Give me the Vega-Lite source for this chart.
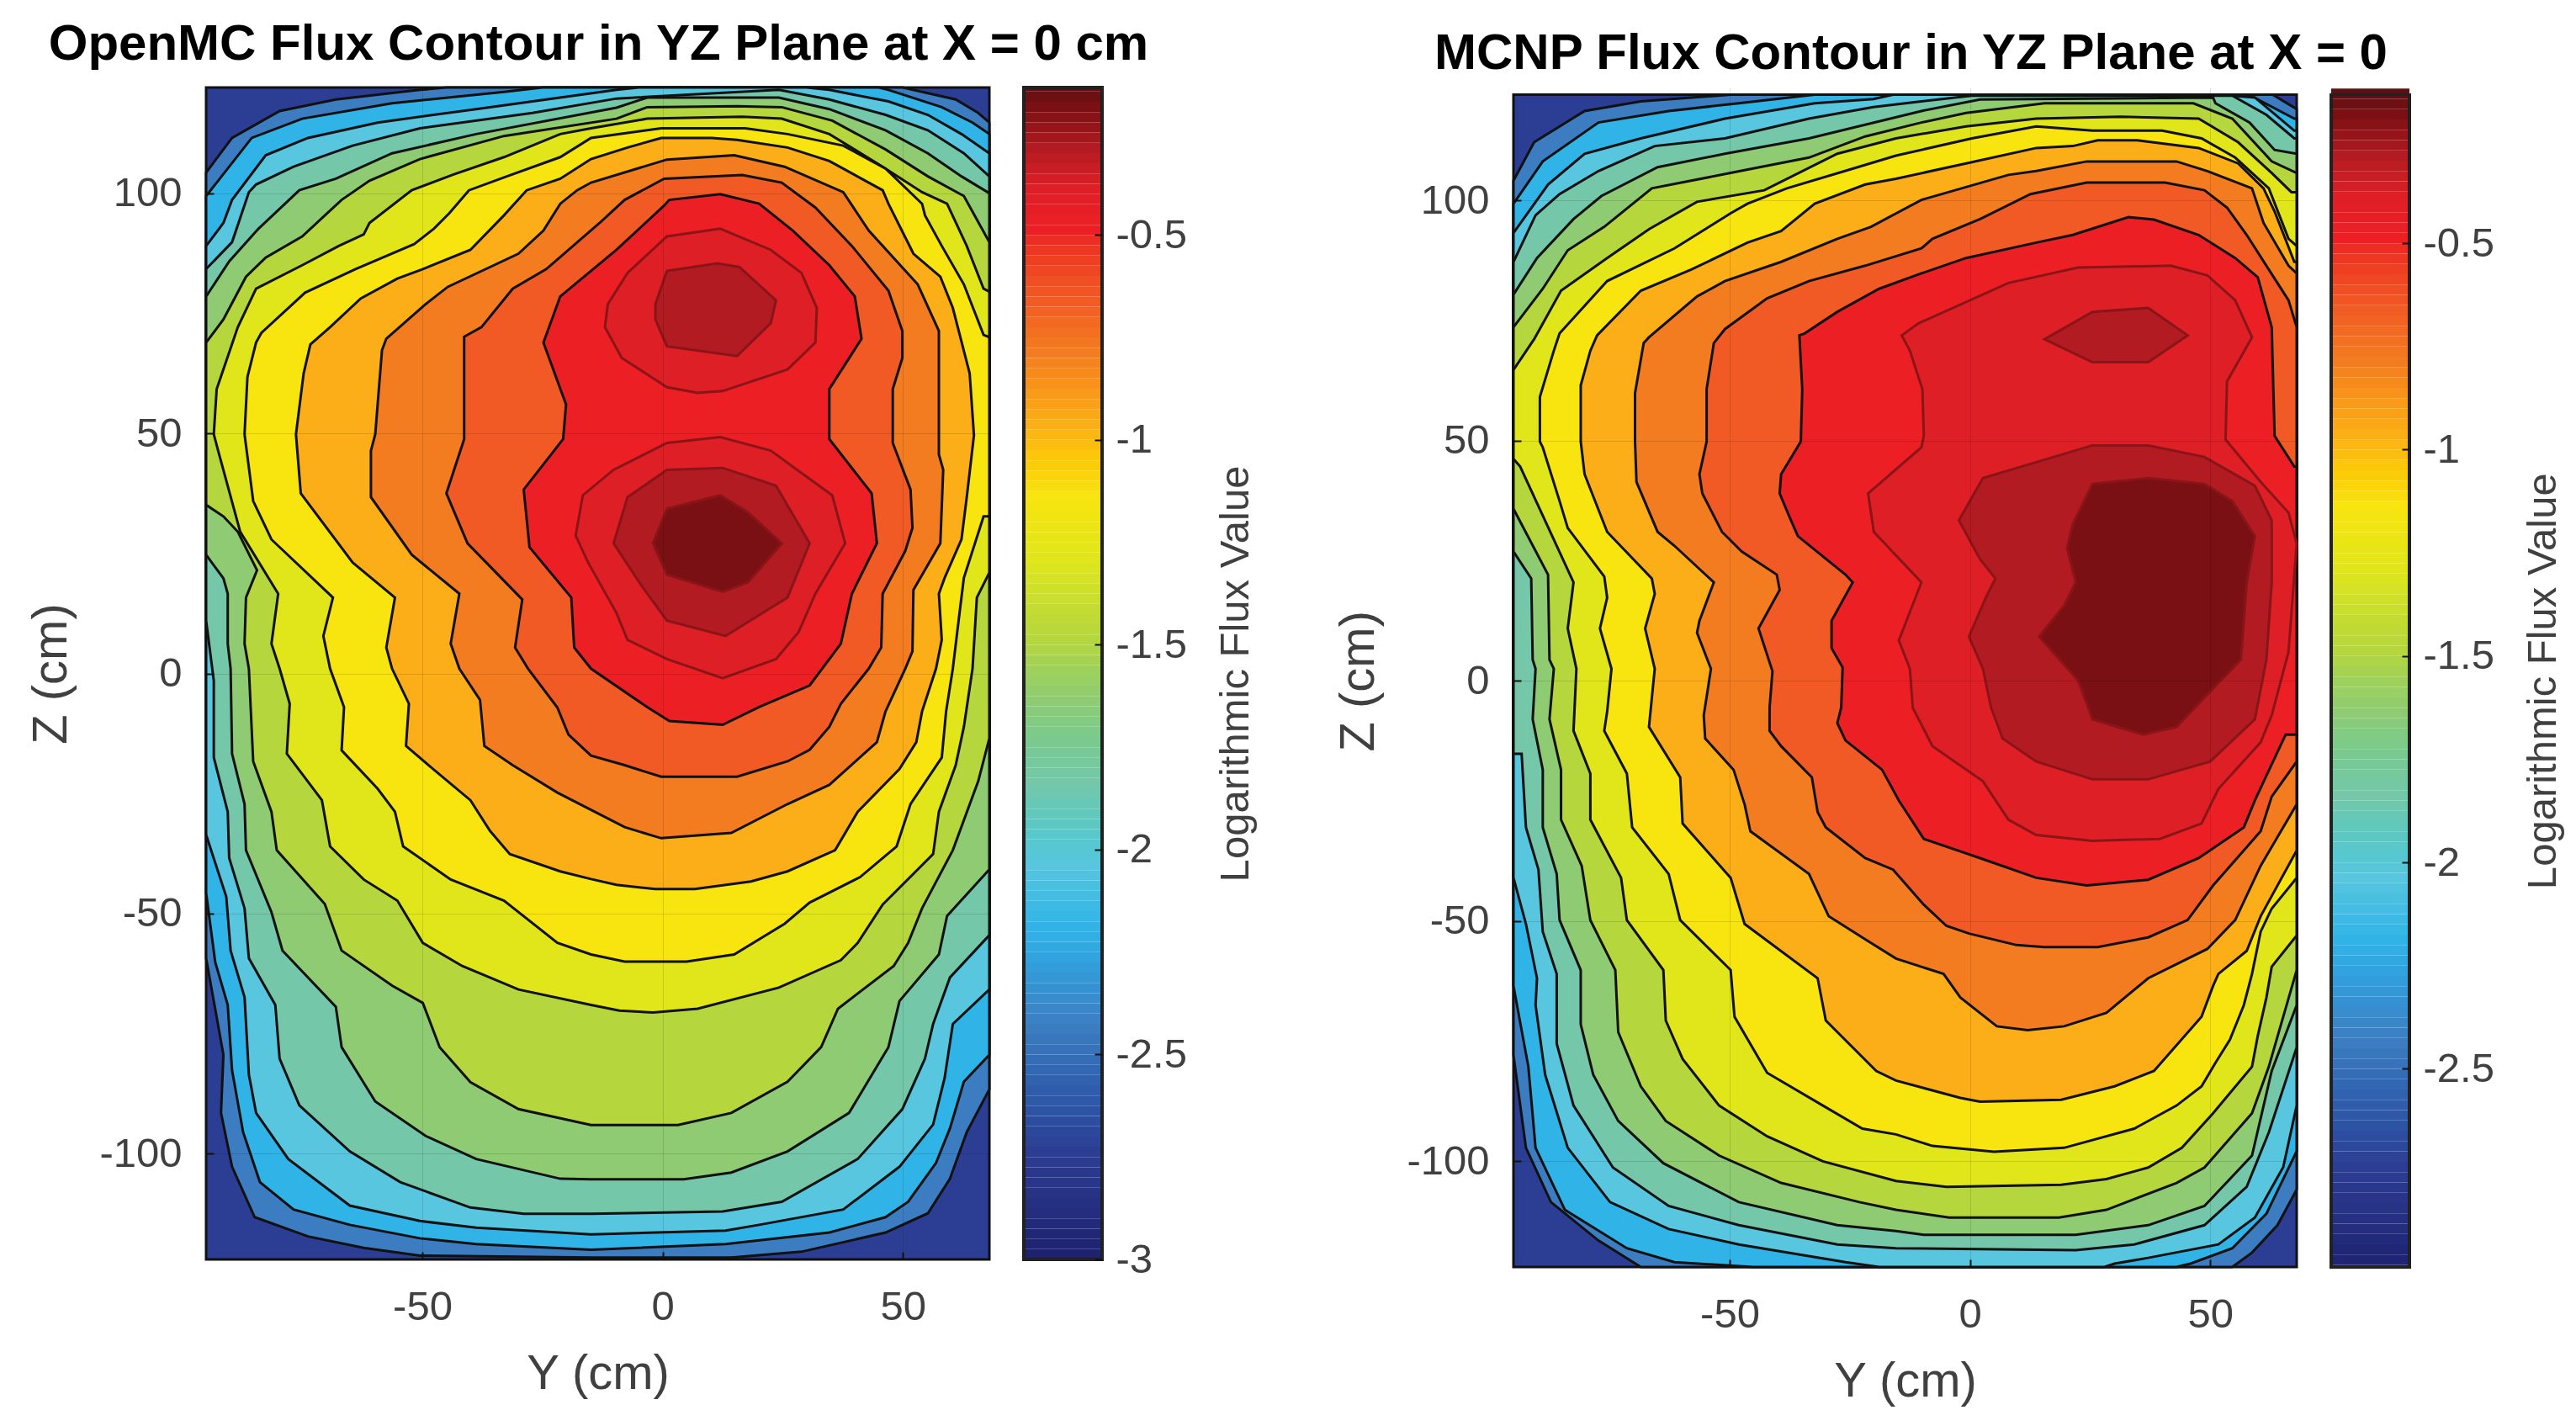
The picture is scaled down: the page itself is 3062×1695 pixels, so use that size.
{"$schema":"https://vega.github.io/schema/vega-lite/v6.json","padding":{"left":32,"top":23,"right":10,"bottom":5},"bounds":"flush","spacing":41,"config":{"view":{"stroke":null},"font":"Liberation Sans","title":{"font":"Liberation Sans","fontWeight":"bold","fontSize":60,"color":"#000"},"axis":{"labelFont":"Liberation Sans","titleFont":"Liberation Sans","labelColor":"#404040","titleColor":"#404040","titleFontWeight":"normal","domain":false,"ticks":true,"tickColor":"#111111","tickWidth":2,"tickSize":-9}},
"datasets":{"cb":[{"v":-3,"w":-2.975},{"v":-2.975,"w":-2.95},{"v":-2.95,"w":-2.925},{"v":-2.925,"w":-2.9},{"v":-2.9,"w":-2.875},{"v":-2.875,"w":-2.85},{"v":-2.85,"w":-2.825},{"v":-2.825,"w":-2.8},{"v":-2.8,"w":-2.775},{"v":-2.775,"w":-2.75},{"v":-2.75,"w":-2.725},{"v":-2.725,"w":-2.7},{"v":-2.7,"w":-2.675},{"v":-2.675,"w":-2.65},{"v":-2.65,"w":-2.625},{"v":-2.625,"w":-2.6},{"v":-2.6,"w":-2.575},{"v":-2.575,"w":-2.55},{"v":-2.55,"w":-2.525},{"v":-2.525,"w":-2.5},{"v":-2.5,"w":-2.475},{"v":-2.475,"w":-2.45},{"v":-2.45,"w":-2.425},{"v":-2.425,"w":-2.4},{"v":-2.4,"w":-2.375},{"v":-2.375,"w":-2.35},{"v":-2.35,"w":-2.325},{"v":-2.325,"w":-2.3},{"v":-2.3,"w":-2.275},{"v":-2.275,"w":-2.25},{"v":-2.25,"w":-2.225},{"v":-2.225,"w":-2.2},{"v":-2.2,"w":-2.175},{"v":-2.175,"w":-2.15},{"v":-2.15,"w":-2.125},{"v":-2.125,"w":-2.1},{"v":-2.1,"w":-2.075},{"v":-2.075,"w":-2.05},{"v":-2.05,"w":-2.025},{"v":-2.025,"w":-2},{"v":-2,"w":-1.975},{"v":-1.975,"w":-1.95},{"v":-1.95,"w":-1.925},{"v":-1.925,"w":-1.9},{"v":-1.9,"w":-1.875},{"v":-1.875,"w":-1.85},{"v":-1.85,"w":-1.825},{"v":-1.825,"w":-1.8},{"v":-1.8,"w":-1.775},{"v":-1.775,"w":-1.75},{"v":-1.75,"w":-1.725},{"v":-1.725,"w":-1.7},{"v":-1.7,"w":-1.675},{"v":-1.675,"w":-1.65},{"v":-1.65,"w":-1.625},{"v":-1.625,"w":-1.6},{"v":-1.6,"w":-1.575},{"v":-1.575,"w":-1.55},{"v":-1.55,"w":-1.525},{"v":-1.525,"w":-1.5},{"v":-1.5,"w":-1.475},{"v":-1.475,"w":-1.45},{"v":-1.45,"w":-1.425},{"v":-1.425,"w":-1.4},{"v":-1.4,"w":-1.375},{"v":-1.375,"w":-1.35},{"v":-1.35,"w":-1.325},{"v":-1.325,"w":-1.3},{"v":-1.3,"w":-1.275},{"v":-1.275,"w":-1.25},{"v":-1.25,"w":-1.225},{"v":-1.225,"w":-1.2},{"v":-1.2,"w":-1.175},{"v":-1.175,"w":-1.15},{"v":-1.15,"w":-1.125},{"v":-1.125,"w":-1.1},{"v":-1.1,"w":-1.075},{"v":-1.075,"w":-1.05},{"v":-1.05,"w":-1.025},{"v":-1.025,"w":-1},{"v":-1,"w":-0.975},{"v":-0.975,"w":-0.95},{"v":-0.95,"w":-0.925},{"v":-0.925,"w":-0.9},{"v":-0.9,"w":-0.875},{"v":-0.875,"w":-0.85},{"v":-0.85,"w":-0.825},{"v":-0.825,"w":-0.8},{"v":-0.8,"w":-0.775},{"v":-0.775,"w":-0.75},{"v":-0.75,"w":-0.725},{"v":-0.725,"w":-0.7},{"v":-0.7,"w":-0.675},{"v":-0.675,"w":-0.65},{"v":-0.65,"w":-0.625},{"v":-0.625,"w":-0.6},{"v":-0.6,"w":-0.575},{"v":-0.575,"w":-0.55},{"v":-0.55,"w":-0.525},{"v":-0.525,"w":-0.5},{"v":-0.5,"w":-0.475},{"v":-0.475,"w":-0.45},{"v":-0.45,"w":-0.425},{"v":-0.425,"w":-0.4},{"v":-0.4,"w":-0.375},{"v":-0.375,"w":-0.35},{"v":-0.35,"w":-0.325},{"v":-0.325,"w":-0.3},{"v":-0.3,"w":-0.275},{"v":-0.275,"w":-0.25},{"v":-0.25,"w":-0.225},{"v":-0.225,"w":-0.2},{"v":-0.2,"w":-0.175},{"v":-0.175,"w":-0.15},{"v":-0.15,"w":-0.125}],
"L":[{"c":"base","l":-2.75,"y":-95,"z":-122},{"c":"base","l":-2.75,"y":-95,"z":122},{"c":"base","l":-2.75,"y":68,"z":122},{"c":"base","l":-2.75,"y":68,"z":-122},
{"c":"L","l":-2.45,"y":-95,"z":-59.3},{"c":"L","l":-2.45,"y":-95,"z":104.3},{"c":"L","l":-2.45,"y":-89.6,"z":111.5},{"c":"L","l":-2.45,"y":-79.7,"z":117.1},{"c":"L","l":-2.45,"y":-68,"z":119.5},{"c":"L","l":-2.45,"y":-50.5,"z":121.5},{"c":"L","l":-2.45,"y":-45,"z":122},{"c":"L","l":-2.45,"y":50,"z":122},{"c":"L","l":-2.45,"y":61,"z":119.5},{"c":"L","l":-2.45,"y":65.7,"z":116.7},{"c":"L","l":-2.45,"y":68,"z":114.7},{"c":"L","l":-2.45,"y":68,"z":-86.6},{"c":"L","l":-2.45,"y":63.3,"z":-95.5},{"c":"L","l":-2.45,"y":59.8,"z":-105.2},{"c":"L","l":-2.45,"y":55.2,"z":-112.4},{"c":"L","l":-2.45,"y":46.4,"z":-116.4},{"c":"L","l":-2.45,"y":28.9,"z":-120.4},{"c":"L","l":-2.45,"y":14.3,"z":-121.6},{"c":"L","l":-2.45,"y":-14.9,"z":-121.6},{"c":"L","l":-2.45,"y":-50.5,"z":-121.2},{"c":"L","l":-2.45,"y":-62.2,"z":-119.6},{"c":"L","l":-2.45,"y":-73.8,"z":-117.2},{"c":"L","l":-2.45,"y":-84.9,"z":-113.2},{"c":"L","l":-2.45,"y":-89.6,"z":-102.7},{"c":"L","l":-2.45,"y":-91.9,"z":-91.5},{"c":"L","l":-2.45,"y":-91.4,"z":-79.4},
{"c":"K","l":-2.2,"y":-95,"z":-45.7},{"c":"K","l":-2.2,"y":-95,"z":99.4},{"c":"K","l":-2.2,"y":-85.5,"z":111.5},{"c":"K","l":-2.2,"y":-75,"z":115.5},{"c":"K","l":-2.2,"y":-56.3,"z":118.7},{"c":"K","l":-2.2,"y":-33,"z":121.1},{"c":"K","l":-2.2,"y":-25,"z":122},{"c":"K","l":-2.2,"y":45,"z":122},{"c":"K","l":-2.2,"y":47,"z":121.5},{"c":"K","l":-2.2,"y":58.1,"z":117.9},{"c":"K","l":-2.2,"y":64.5,"z":114.7},{"c":"K","l":-2.2,"y":68,"z":112.3},{"c":"K","l":-2.2,"y":68,"z":-79.4},{"c":"K","l":-2.2,"y":62.7,"z":-85},{"c":"K","l":-2.2,"y":59.8,"z":-94.7},{"c":"K","l":-2.2,"y":56.9,"z":-101.9},{"c":"K","l":-2.2,"y":51.1,"z":-110},{"c":"K","l":-2.2,"y":46.4,"z":-113.2},{"c":"K","l":-2.2,"y":34.7,"z":-116.4},{"c":"K","l":-2.2,"y":13.1,"z":-118.8},{"c":"K","l":-2.2,"y":-14.9,"z":-120},{"c":"K","l":-2.2,"y":-38.8,"z":-118.8},{"c":"K","l":-2.2,"y":-50.5,"z":-117.6},{"c":"K","l":-2.2,"y":-65.1,"z":-114.8},{"c":"K","l":-2.2,"y":-76.8,"z":-111.6},{"c":"K","l":-2.2,"y":-83.8,"z":-105.9},{"c":"K","l":-2.2,"y":-87.3,"z":-95.5},{"c":"K","l":-2.2,"y":-89.6,"z":-82.6},{"c":"K","l":-2.2,"y":-90.5,"z":-69},{"c":"K","l":-2.2,"y":-93.1,"z":-60.1},
{"c":"J","l":-2.05,"y":-95,"z":-33.6},{"c":"J","l":-2.05,"y":-95,"z":89},{"c":"J","l":-2.05,"y":-91.4,"z":93.8},{"c":"J","l":-2.05,"y":-89.6,"z":98.6},{"c":"J","l":-2.05,"y":-82.6,"z":107.9},{"c":"J","l":-2.05,"y":-73.8,"z":111.5},{"c":"J","l":-2.05,"y":-59.3,"z":114.7},{"c":"J","l":-2.05,"y":-38.8,"z":117.5},{"c":"J","l":-2.05,"y":-9.6,"z":121.5},{"c":"J","l":-2.05,"y":-5,"z":122},{"c":"J","l":-2.05,"y":30,"z":122},{"c":"J","l":-2.05,"y":34.7,"z":121.5},{"c":"J","l":-2.05,"y":47,"z":119.1},{"c":"J","l":-2.05,"y":55.2,"z":116.3},{"c":"J","l":-2.05,"y":62.2,"z":112.3},{"c":"J","l":-2.05,"y":68,"z":108.3},{"c":"J","l":-2.05,"y":68,"z":-65.8},{"c":"J","l":-2.05,"y":60.4,"z":-73},{"c":"J","l":-2.05,"y":58.7,"z":-84.2},{"c":"J","l":-2.05,"y":56.3,"z":-93.9},{"c":"J","l":-2.05,"y":49.3,"z":-102.7},{"c":"J","l":-2.05,"y":37.6,"z":-111.6},{"c":"J","l":-2.05,"y":20.1,"z":-114.8},{"c":"J","l":-2.05,"y":13.1,"z":-116},{"c":"J","l":-2.05,"y":-14.9,"z":-116.8},{"c":"J","l":-2.05,"y":-38.8,"z":-115.4},{"c":"J","l":-2.05,"y":-50.5,"z":-114},{"c":"J","l":-2.05,"y":-65.1,"z":-110.8},{"c":"J","l":-2.05,"y":-77.9,"z":-101.1},{"c":"J","l":-2.05,"y":-84.6,"z":-91.5},{"c":"J","l":-2.05,"y":-86.1,"z":-83.5},{"c":"J","l":-2.05,"y":-87,"z":-67.4},{"c":"J","l":-2.05,"y":-89.9,"z":-57.7},{"c":"J","l":-2.05,"y":-90.8,"z":-46.5},
{"c":"I","l":-1.85,"y":-95,"z":11},{"c":"I","l":-1.85,"y":-95,"z":84.2},{"c":"I","l":-1.85,"y":-89.6,"z":89.8},{"c":"I","l":-1.85,"y":-86.1,"z":100.2},{"c":"I","l":-1.85,"y":-84.6,"z":101.8},{"c":"I","l":-1.85,"y":-76.8,"z":105.5},{"c":"I","l":-1.85,"y":-64.5,"z":109.9},{"c":"I","l":-1.85,"y":-50.5,"z":113.5},{"c":"I","l":-1.85,"y":-27.1,"z":116.7},{"c":"I","l":-1.85,"y":-9.6,"z":119.7},{"c":"I","l":-1.85,"y":24.2,"z":121.5},{"c":"I","l":-1.85,"y":34.7,"z":119.5},{"c":"I","l":-1.85,"y":46.4,"z":116.3},{"c":"I","l":-1.85,"y":55.2,"z":113.1},{"c":"I","l":-1.85,"y":62.7,"z":108.3},{"c":"I","l":-1.85,"y":68,"z":103.5},{"c":"I","l":-1.85,"y":68,"z":-54.5},{"c":"I","l":-1.85,"y":59.8,"z":-63.3},{"c":"I","l":-1.85,"y":56.3,"z":-73},{"c":"I","l":-1.85,"y":54.6,"z":-80.2},{"c":"I","l":-1.85,"y":49.9,"z":-90.7},{"c":"I","l":-1.85,"y":40.6,"z":-101.1},{"c":"I","l":-1.85,"y":24.8,"z":-110},{"c":"I","l":-1.85,"y":12.5,"z":-112},{"c":"I","l":-1.85,"y":-14.9,"z":-112.5},{"c":"I","l":-1.85,"y":-28.9,"z":-112.5},{"c":"I","l":-1.85,"y":-40,"z":-111.2},{"c":"I","l":-1.85,"y":-54.6,"z":-105.9},{"c":"I","l":-1.85,"y":-65.1,"z":-99.5},{"c":"I","l":-1.85,"y":-75.6,"z":-89.9},{"c":"I","l":-1.85,"y":-79.7,"z":-80.2},{"c":"I","l":-1.85,"y":-80.6,"z":-69},{"c":"I","l":-1.85,"y":-86.1,"z":-59.3},{"c":"I","l":-1.85,"y":-87,"z":-48.9},{"c":"I","l":-1.85,"y":-90.2,"z":-38.4},{"c":"I","l":-1.85,"y":-90.5,"z":-28.8},{"c":"I","l":-1.85,"y":-93.4,"z":-17.5},{"c":"I","l":-1.85,"y":-93.4,"z":-1.5},
{"c":"H","l":-1.65,"y":-95,"z":24.7},{"c":"H","l":-1.65,"y":-95,"z":78.5},{"c":"H","l":-1.65,"y":-90.2,"z":85.8},{"c":"H","l":-1.65,"y":-84.1,"z":92.6},{"c":"H","l":-1.65,"y":-75.6,"z":100.6},{"c":"H","l":-1.65,"y":-68,"z":103},{"c":"H","l":-1.65,"y":-56.3,"z":108.3},{"c":"H","l":-1.65,"y":-38.8,"z":112.3},{"c":"H","l":-1.65,"y":-9.6,"z":117.8},{"c":"H","l":-1.65,"y":-3.2,"z":119.9},{"c":"H","l":-1.65,"y":24.2,"z":119.9},{"c":"H","l":-1.65,"y":34.7,"z":117.5},{"c":"H","l":-1.65,"y":46.4,"z":113.1},{"c":"H","l":-1.65,"y":55.2,"z":108.3},{"c":"H","l":-1.65,"y":62.2,"z":103.5},{"c":"H","l":-1.65,"y":68,"z":100},{"c":"H","l":-1.65,"y":68,"z":-40.8},{"c":"H","l":-1.65,"y":59.2,"z":-50.5},{"c":"H","l":-1.65,"y":57.5,"z":-58.5},{"c":"H","l":-1.65,"y":49.3,"z":-68.2},{"c":"H","l":-1.65,"y":47,"z":-77.8},{"c":"H","l":-1.65,"y":38.8,"z":-91.5},{"c":"H","l":-1.65,"y":26,"z":-99.5},{"c":"H","l":-1.65,"y":14.3,"z":-103.9},{"c":"H","l":-1.65,"y":4.4,"z":-105.3},{"c":"H","l":-1.65,"y":-14.9,"z":-105.3},{"c":"H","l":-1.65,"y":-21.3,"z":-105.2},{"c":"H","l":-1.65,"y":-38.8,"z":-101.1},{"c":"H","l":-1.65,"y":-49.3,"z":-96.3},{"c":"H","l":-1.65,"y":-59.8,"z":-89.1},{"c":"H","l":-1.65,"y":-66.8,"z":-77.8},{"c":"H","l":-1.65,"y":-68,"z":-69.4},{"c":"H","l":-1.65,"y":-79.1,"z":-57.7},{"c":"H","l":-1.65,"y":-81.4,"z":-49.7},{"c":"H","l":-1.65,"y":-86.7,"z":-36.8},{"c":"H","l":-1.65,"y":-87,"z":-27.2},{"c":"H","l":-1.65,"y":-89.6,"z":-16.7},{"c":"H","l":-1.65,"y":-89.9,"z":1},{"c":"H","l":-1.65,"y":-90.5,"z":6.2},{"c":"H","l":-1.65,"y":-90.5,"z":16.6},{"c":"H","l":-1.65,"y":-91.4,"z":19.8},
{"c":"G","l":-1.5,"y":-95,"z":35.1},{"c":"G","l":-1.5,"y":-95,"z":68.9},{"c":"G","l":-1.5,"y":-91.4,"z":73.7},{"c":"G","l":-1.5,"y":-86.7,"z":82.6},{"c":"G","l":-1.5,"y":-82.6,"z":86.6},{"c":"G","l":-1.5,"y":-75,"z":91},{"c":"G","l":-1.5,"y":-66.8,"z":98.6},{"c":"G","l":-1.5,"y":-61,"z":102.6},{"c":"G","l":-1.5,"y":-50.5,"z":107.1},{"c":"G","l":-1.5,"y":-33,"z":111.9},{"c":"G","l":-1.5,"y":-9.6,"z":115.5},{"c":"G","l":-1.5,"y":-3.2,"z":117.9},{"c":"G","l":-1.5,"y":15.5,"z":118.1},{"c":"G","l":-1.5,"y":24.8,"z":117.9},{"c":"G","l":-1.5,"y":35.3,"z":115.1},{"c":"G","l":-1.5,"y":46.4,"z":109.1},{"c":"G","l":-1.5,"y":55.2,"z":103.5},{"c":"G","l":-1.5,"y":62.7,"z":99.4},{"c":"G","l":-1.5,"y":68,"z":89.8},{"c":"G","l":-1.5,"y":68,"z":-13.5},{"c":"G","l":-1.5,"y":65.7,"z":-22.4},{"c":"G","l":-1.5,"y":60.4,"z":-36.8},{"c":"G","l":-1.5,"y":54,"z":-48.9},{"c":"G","l":-1.5,"y":51.1,"z":-56.1},{"c":"G","l":-1.5,"y":48.1,"z":-60.9},{"c":"G","l":-1.5,"y":36.5,"z":-69.8},{"c":"G","l":-1.5,"y":33,"z":-77.8},{"c":"G","l":-1.5,"y":26,"z":-85},{"c":"G","l":-1.5,"y":14.3,"z":-91.5},{"c":"G","l":-1.5,"y":3.2,"z":-94},{"c":"G","l":-1.5,"y":-14.9,"z":-94},{"c":"G","l":-1.5,"y":-30,"z":-90.7},{"c":"G","l":-1.5,"y":-40,"z":-85.1},{"c":"G","l":-1.5,"y":-46.4,"z":-77.8},{"c":"G","l":-1.5,"y":-49.9,"z":-68.6},{"c":"G","l":-1.5,"y":-56.3,"z":-65},{"c":"G","l":-1.5,"y":-66.8,"z":-57.7},{"c":"G","l":-1.5,"y":-70.3,"z":-48},{"c":"G","l":-1.5,"y":-80.3,"z":-36.8},{"c":"G","l":-1.5,"y":-81.4,"z":-28.8},{"c":"G","l":-1.5,"y":-85.2,"z":-18.3},{"c":"G","l":-1.5,"y":-86.1,"z":1},{"c":"G","l":-1.5,"y":-87,"z":6.2},{"c":"G","l":-1.5,"y":-86.7,"z":15.8},{"c":"G","l":-1.5,"y":-84.4,"z":21.5},{"c":"G","l":-1.5,"y":-88.4,"z":29.5},{"c":"G","l":-1.5,"y":-91.4,"z":32.7},
{"c":"F","l":-1.3,"y":-93.4,"z":49.8},{"c":"F","l":-1.3,"y":-92.8,"z":59.2},{"c":"F","l":-1.3,"y":-88.4,"z":72.1},{"c":"F","l":-1.3,"y":-84.6,"z":80.1},{"c":"F","l":-1.3,"y":-75,"z":85},{"c":"F","l":-1.3,"y":-67.4,"z":89},{"c":"F","l":-1.3,"y":-62.2,"z":91.4},{"c":"F","l":-1.3,"y":-61,"z":93.8},{"c":"F","l":-1.3,"y":-52.2,"z":100.6},{"c":"F","l":-1.3,"y":-43.5,"z":103.9},{"c":"F","l":-1.3,"y":-33,"z":107.5},{"c":"F","l":-1.3,"y":-21.3,"z":112.3},{"c":"F","l":-1.3,"y":-14.9,"z":113.5},{"c":"F","l":-1.3,"y":-3.2,"z":115.5},{"c":"F","l":-1.3,"y":16.6,"z":115.9},{"c":"F","l":-1.3,"y":24.8,"z":115.5},{"c":"F","l":-1.3,"y":34.7,"z":112.3},{"c":"F","l":-1.3,"y":45.8,"z":105.5},{"c":"F","l":-1.3,"y":54,"z":100.2},{"c":"F","l":-1.3,"y":59.2,"z":97.8},{"c":"F","l":-1.3,"y":63.3,"z":89},{"c":"F","l":-1.3,"y":66.8,"z":80.1},{"c":"F","l":-1.3,"y":68,"z":79.5},{"c":"F","l":-1.3,"y":68,"z":21},{"c":"F","l":-1.3,"y":65.4,"z":15.8},{"c":"F","l":-1.3,"y":64.5,"z":1},{"c":"F","l":-1.3,"y":62.7,"z":-11.1},{"c":"F","l":-1.3,"y":61,"z":-19.1},{"c":"F","l":-1.3,"y":57.5,"z":-28.8},{"c":"F","l":-1.3,"y":56.3,"z":-37.6},{"c":"F","l":-1.3,"y":45.8,"z":-48.1},{"c":"F","l":-1.3,"y":40.6,"z":-56.1},{"c":"F","l":-1.3,"y":37.1,"z":-59.7},{"c":"F","l":-1.3,"y":24.2,"z":-65.4},{"c":"F","l":-1.3,"y":7.3,"z":-69.8},{"c":"F","l":-1.3,"y":-2,"z":-70.6},{"c":"F","l":-1.3,"y":-9,"z":-70.2},{"c":"F","l":-1.3,"y":-14.9,"z":-69},{"c":"F","l":-1.3,"y":-30,"z":-65.8},{"c":"F","l":-1.3,"y":-41.7,"z":-60.9},{"c":"F","l":-1.3,"y":-49.9,"z":-56.1},{"c":"F","l":-1.3,"y":-55.2,"z":-47.3},{"c":"F","l":-1.3,"y":-62.2,"z":-42.9},{"c":"F","l":-1.3,"y":-69.2,"z":-36},{"c":"F","l":-1.3,"y":-70.9,"z":-26.4},{"c":"F","l":-1.3,"y":-78.2,"z":-16.7},{"c":"F","l":-1.3,"y":-77.6,"z":-6.3},{"c":"F","l":-1.3,"y":-79.7,"z":1},{"c":"F","l":-1.3,"y":-81.4,"z":6.2},{"c":"F","l":-1.3,"y":-80,"z":16.6},{"c":"F","l":-1.3,"y":-87.9,"z":29.5},{"c":"F","l":-1.3,"y":-92.5,"z":46.4},
{"c":"E","l":-1.15,"y":-87,"z":49.8},{"c":"E","l":-1.15,"y":-86.4,"z":61.7},{"c":"E","l":-1.15,"y":-84.6,"z":68.9},{"c":"E","l":-1.15,"y":-83.5,"z":70.9},{"c":"E","l":-1.15,"y":-74.4,"z":79.3},{"c":"E","l":-1.15,"y":-63.9,"z":84.2},{"c":"E","l":-1.15,"y":-51.7,"z":89.4},{"c":"E","l":-1.15,"y":-47.6,"z":92.6},{"c":"E","l":-1.15,"y":-44.4,"z":95.8},{"c":"E","l":-1.15,"y":-40.3,"z":100.6},{"c":"E","l":-1.15,"y":-32.4,"z":103.5},{"c":"E","l":-1.15,"y":-21.3,"z":107.5},{"c":"E","l":-1.15,"y":-14.9,"z":111.5},{"c":"E","l":-1.15,"y":-0.3,"z":113.5},{"c":"E","l":-1.15,"y":17.2,"z":113.5},{"c":"E","l":-1.15,"y":26,"z":112.3},{"c":"E","l":-1.15,"y":37.6,"z":109.9},{"c":"E","l":-1.15,"y":46.4,"z":105.1},{"c":"E","l":-1.15,"y":54,"z":97.8},{"c":"E","l":-1.15,"y":54.6,"z":95.4},{"c":"E","l":-1.15,"y":58.1,"z":89},{"c":"E","l":-1.15,"y":62.7,"z":81},{"c":"E","l":-1.15,"y":66.8,"z":70.5},{"c":"E","l":-1.15,"y":68,"z":70},{"c":"E","l":-1.15,"y":68,"z":32.7},{"c":"E","l":-1.15,"y":66.8,"z":32.7},{"c":"E","l":-1.15,"y":62.7,"z":19.9},{"c":"E","l":-1.15,"y":61.6,"z":11},{"c":"E","l":-1.15,"y":60.4,"z":1},{"c":"E","l":-1.15,"y":59,"z":-7.9},{"c":"E","l":-1.15,"y":58.1,"z":-17.5},{"c":"E","l":-1.15,"y":51.6,"z":-27.2},{"c":"E","l":-1.15,"y":48.7,"z":-36},{"c":"E","l":-1.15,"y":41.1,"z":-42.4},{"c":"E","l":-1.15,"y":30.6,"z":-47.7},{"c":"E","l":-1.15,"y":25.4,"z":-52.1},{"c":"E","l":-1.15,"y":14.9,"z":-58.5},{"c":"E","l":-1.15,"y":5,"z":-60},{"c":"E","l":-1.15,"y":-7.9,"z":-60},{"c":"E","l":-1.15,"y":-14.9,"z":-58.5},{"c":"E","l":-1.15,"y":-21.9,"z":-56.1},{"c":"E","l":-1.15,"y":-33,"z":-47.3},{"c":"E","l":-1.15,"y":-44.1,"z":-42.9},{"c":"E","l":-1.15,"y":-54,"z":-36},{"c":"E","l":-1.15,"y":-55.7,"z":-28.8},{"c":"E","l":-1.15,"y":-59.3,"z":-24},{"c":"E","l":-1.15,"y":-66.8,"z":-16},{"c":"E","l":-1.15,"y":-66.3,"z":-7},{"c":"E","l":-1.15,"y":-69.2,"z":1},{"c":"E","l":-1.15,"y":-70.6,"z":7.8},{"c":"E","l":-1.15,"y":-68.6,"z":15.8},{"c":"E","l":-1.15,"y":-81.4,"z":27.9},{"c":"E","l":-1.15,"y":-85.2,"z":35.9},
{"c":"D","l":-0.97,"y":-76.3,"z":49.8},{"c":"D","l":-0.97,"y":-74.7,"z":62.5},{"c":"D","l":-0.97,"y":-73.3,"z":68.5},{"c":"D","l":-0.97,"y":-69.2,"z":72.1},{"c":"D","l":-0.97,"y":-62.8,"z":78.1},{"c":"D","l":-0.97,"y":-55.2,"z":82.2},{"c":"D","l":-0.97,"y":-49.9,"z":84.2},{"c":"D","l":-0.97,"y":-40,"z":88.2},{"c":"D","l":-0.97,"y":-33,"z":95.4},{"c":"D","l":-0.97,"y":-28.3,"z":100.6},{"c":"D","l":-0.97,"y":-21.3,"z":103},{"c":"D","l":-0.97,"y":-14.9,"z":107.1},{"c":"D","l":-0.97,"y":-7.3,"z":109.5},{"c":"D","l":-0.97,"y":-0.3,"z":111.5},{"c":"D","l":-0.97,"y":10.2,"z":111.5},{"c":"D","l":-0.97,"y":15.5,"z":111.1},{"c":"D","l":-0.97,"y":26,"z":109.5},{"c":"D","l":-0.97,"y":34.7,"z":106.7},{"c":"D","l":-0.97,"y":45.8,"z":100.6},{"c":"D","l":-0.97,"y":47,"z":97.8},{"c":"D","l":-0.97,"y":52.2,"z":87.4},{"c":"D","l":-0.97,"y":57.8,"z":82.6},{"c":"D","l":-0.97,"y":60.4,"z":76.1},{"c":"D","l":-0.97,"y":63.9,"z":62.5},{"c":"D","l":-0.97,"y":64.8,"z":49.6},{"c":"D","l":-0.97,"y":63.3,"z":36.7},{"c":"D","l":-0.97,"y":62.2,"z":27.9},{"c":"D","l":-0.97,"y":58.7,"z":19.9},{"c":"D","l":-0.97,"y":57.5,"z":16.6},{"c":"D","l":-0.97,"y":58.1,"z":7},{"c":"D","l":-0.97,"y":56.9,"z":1},{"c":"D","l":-0.97,"y":54,"z":-7.9},{"c":"D","l":-0.97,"y":52.8,"z":-14.3},{"c":"D","l":-0.97,"y":49.3,"z":-19.9},{"c":"D","l":-0.97,"y":40.6,"z":-28.8},{"c":"D","l":-0.97,"y":35.9,"z":-36.8},{"c":"D","l":-0.97,"y":26,"z":-41.2},{"c":"D","l":-0.97,"y":18.4,"z":-43.3},{"c":"D","l":-0.97,"y":6.7,"z":-44.9},{"c":"D","l":-0.97,"y":-1.5,"z":-44.9},{"c":"D","l":-0.97,"y":-9.6,"z":-44},{"c":"D","l":-0.97,"y":-14.9,"z":-42.8},{"c":"D","l":-0.97,"y":-21.3,"z":-41.2},{"c":"D","l":-0.97,"y":-31.8,"z":-37.6},{"c":"D","l":-0.97,"y":-35.9,"z":-32.8},{"c":"D","l":-0.97,"y":-40,"z":-26.4},{"c":"D","l":-0.97,"y":-48.7,"z":-19.1},{"c":"D","l":-0.97,"y":-53.4,"z":-15.1},{"c":"D","l":-0.97,"y":-52.8,"z":-6.3},{"c":"D","l":-0.97,"y":-56.3,"z":1},{"c":"D","l":-0.97,"y":-57.5,"z":5.4},{"c":"D","l":-0.97,"y":-55.7,"z":15.8},{"c":"D","l":-0.97,"y":-64.5,"z":23.1},{"c":"D","l":-0.97,"y":-75.3,"z":37.5},
{"c":"C","l":-0.8,"y":-59.8,"z":49.8},{"c":"C","l":-0.8,"y":-58.4,"z":67.3},{"c":"C","l":-0.8,"y":-57.5,"z":69.7},{"c":"C","l":-0.8,"y":-49.3,"z":76.9},{"c":"C","l":-0.8,"y":-44.7,"z":80.5},{"c":"C","l":-0.8,"y":-30,"z":87.4},{"c":"C","l":-0.8,"y":-24.8,"z":92.2},{"c":"C","l":-0.8,"y":-21.3,"z":97.8},{"c":"C","l":-0.8,"y":-17.8,"z":100.6},{"c":"C","l":-0.8,"y":-14.9,"z":102.2},{"c":"C","l":-0.8,"y":0.9,"z":107},{"c":"C","l":-0.8,"y":14.9,"z":107.9},{"c":"C","l":-0.8,"y":25.4,"z":105.5},{"c":"C","l":-0.8,"y":37.6,"z":100.2},{"c":"C","l":-0.8,"y":42.9,"z":92.2},{"c":"C","l":-0.8,"y":53.1,"z":81},{"c":"C","l":-0.8,"y":57.5,"z":71.3},{"c":"C","l":-0.8,"y":57.5,"z":45.6},{"c":"C","l":-0.8,"y":58.4,"z":42.4},{"c":"C","l":-0.8,"y":57.8,"z":27.1},{"c":"C","l":-0.8,"y":52.2,"z":17.4},{"c":"C","l":-0.8,"y":52,"z":4.6},{"c":"C","l":-0.8,"y":50.5,"z":1},{"c":"C","l":-0.8,"y":46.4,"z":-7.9},{"c":"C","l":-0.8,"y":44.6,"z":-14.3},{"c":"C","l":-0.8,"y":34.7,"z":-23.2},{"c":"C","l":-0.8,"y":26,"z":-27.2},{"c":"C","l":-0.8,"y":14.3,"z":-33.2},{"c":"C","l":-0.8,"y":-0.3,"z":-34.3},{"c":"C","l":-0.8,"y":-7.9,"z":-32},{"c":"C","l":-0.8,"y":-14.9,"z":-28.4},{"c":"C","l":-0.8,"y":-21.9,"z":-24.8},{"c":"C","l":-0.8,"y":-31.2,"z":-19.1},{"c":"C","l":-0.8,"y":-37.1,"z":-15.1},{"c":"C","l":-0.8,"y":-38,"z":-5.5},{"c":"C","l":-0.8,"y":-42.3,"z":1},{"c":"C","l":-0.8,"y":-44.1,"z":6.2},{"c":"C","l":-0.8,"y":-42.3,"z":16.6},{"c":"C","l":-0.8,"y":-52.2,"z":24.7},{"c":"C","l":-0.8,"y":-60.7,"z":36.7},{"c":"C","l":-0.8,"y":-60.7,"z":46.4},
{"c":"B","l":-0.67,"y":-41.3,"z":48.8},{"c":"B","l":-0.67,"y":-41.3,"z":70.1},{"c":"B","l":-0.67,"y":-37.7,"z":72.1},{"c":"B","l":-0.67,"y":-31.2,"z":80.1},{"c":"B","l":-0.67,"y":-24.2,"z":84.2},{"c":"B","l":-0.67,"y":-13.1,"z":93.8},{"c":"B","l":-0.67,"y":-7.9,"z":98.6},{"c":"B","l":-0.67,"y":0.3,"z":103},{"c":"B","l":-0.67,"y":16.6,"z":103.8},{"c":"B","l":-0.67,"y":24.8,"z":102.2},{"c":"B","l":-0.67,"y":31.8,"z":97},{"c":"B","l":-0.67,"y":39.4,"z":89},{"c":"B","l":-0.67,"y":47,"z":79.7},{"c":"B","l":-0.67,"y":49.9,"z":71.3},{"c":"B","l":-0.67,"y":49.9,"z":65.7},{"c":"B","l":-0.67,"y":47.9,"z":59.2},{"c":"B","l":-0.67,"y":47.9,"z":48},{"c":"B","l":-0.67,"y":51.6,"z":38.3},{"c":"B","l":-0.67,"y":52,"z":30.3},{"c":"B","l":-0.67,"y":50.5,"z":25.5},{"c":"B","l":-0.67,"y":45.8,"z":16.6},{"c":"B","l":-0.67,"y":45.5,"z":5.4},{"c":"B","l":-0.67,"y":42.9,"z":1},{"c":"B","l":-0.67,"y":37.1,"z":-6.3},{"c":"B","l":-0.67,"y":34.7,"z":-11.1},{"c":"B","l":-0.67,"y":30.6,"z":-15.9},{"c":"B","l":-0.67,"y":26,"z":-18.3},{"c":"B","l":-0.67,"y":15.5,"z":-21.5},{"c":"B","l":-0.67,"y":-0.3,"z":-21.5},{"c":"B","l":-0.67,"y":-7.9,"z":-19.1},{"c":"B","l":-0.67,"y":-14.9,"z":-17.1},{"c":"B","l":-0.67,"y":-19.6,"z":-12.7},{"c":"B","l":-0.67,"y":-21.9,"z":-7.1},{"c":"B","l":-0.67,"y":-28,"z":1},{"c":"B","l":-0.67,"y":-30.7,"z":5.4},{"c":"B","l":-0.67,"y":-29.2,"z":15.4},{"c":"B","l":-0.67,"y":-40.6,"z":27.1},{"c":"B","l":-0.67,"y":-45,"z":37.5},
{"c":"A","l":-0.5,"y":-24.8,"z":68.9},{"c":"A","l":-0.5,"y":-21.3,"z":78.5},{"c":"A","l":-0.5,"y":-9.6,"z":88.2},{"c":"A","l":-0.5,"y":0.3,"z":97.4},{"c":"A","l":-0.5,"y":1.4,"z":98.6},{"c":"A","l":-0.5,"y":12,"z":99.8},{"c":"A","l":-0.5,"y":20.1,"z":97.8},{"c":"A","l":-0.5,"y":27.1,"z":92.2},{"c":"A","l":-0.5,"y":34.7,"z":85},{"c":"A","l":-0.5,"y":40,"z":78.5},{"c":"A","l":-0.5,"y":41.4,"z":69.7},{"c":"A","l":-0.5,"y":34.7,"z":59.2},{"c":"A","l":-0.5,"y":34.7,"z":48.8},{"c":"A","l":-0.5,"y":43.5,"z":37.5},{"c":"A","l":-0.5,"y":44.6,"z":27.1},{"c":"A","l":-0.5,"y":39.4,"z":16.6},{"c":"A","l":-0.5,"y":37.1,"z":6.2},{"c":"A","l":-0.5,"y":30.6,"z":-2.5},{"c":"A","l":-0.5,"y":20.1,"z":-7},{"c":"A","l":-0.5,"y":12.5,"z":-10.7},{"c":"A","l":-0.5,"y":1.4,"z":-9.9},{"c":"A","l":-0.5,"y":-3.2,"z":-7},{"c":"A","l":-0.5,"y":-14.9,"z":1},{"c":"A","l":-0.5,"y":-18.4,"z":5.4},{"c":"A","l":-0.5,"y":-19,"z":15.8},{"c":"A","l":-0.5,"y":-27.7,"z":26.3},{"c":"A","l":-0.5,"y":-28.9,"z":38.3},{"c":"A","l":-0.5,"y":-20.7,"z":48.8},{"c":"A","l":-0.5,"y":-20.1,"z":56},
{"c":"T1","l":-0.4,"y":0.9,"z":91},{"c":"T1","l":-0.4,"y":12,"z":92.6},{"c":"T1","l":-0.4,"y":22.5,"z":88.2},{"c":"T1","l":-0.4,"y":28.9,"z":83.4},{"c":"T1","l":-0.4,"y":32.1,"z":76.1},{"c":"T1","l":-0.4,"y":31.8,"z":68.9},{"c":"T1","l":-0.4,"y":26,"z":63.3},{"c":"T1","l":-0.4,"y":12.5,"z":58.8},{"c":"T1","l":-0.4,"y":7.3,"z":58.4},{"c":"T1","l":-0.4,"y":0.9,"z":59.6},{"c":"T1","l":-0.4,"y":-8.5,"z":65.7},{"c":"T1","l":-0.4,"y":-12,"z":72.1},{"c":"T1","l":-0.4,"y":-11.4,"z":76.9},{"c":"T1","l":-0.4,"y":-7.3,"z":83.4},
{"c":"T2","l":-0.3,"y":0.9,"z":83.8},{"c":"T2","l":-0.3,"y":11.4,"z":85.4},{"c":"T2","l":-0.3,"y":16,"z":84.6},{"c":"T2","l":-0.3,"y":23.6,"z":77.7},{"c":"T2","l":-0.3,"y":22.5,"z":72.9},{"c":"T2","l":-0.3,"y":15.5,"z":66.1},{"c":"T2","l":-0.3,"y":0.9,"z":68.1},{"c":"T2","l":-0.3,"y":-1.5,"z":73.7},{"c":"T2","l":-0.3,"y":-1.5,"z":76.9},
{"c":"R1","l":-0.4,"y":0.9,"z":48},{"c":"R1","l":-0.4,"y":12,"z":49.2},{"c":"R1","l":-0.4,"y":22.5,"z":46.4},{"c":"R1","l":-0.4,"y":35.3,"z":37.1},{"c":"R1","l":-0.4,"y":38,"z":27.1},{"c":"R1","l":-0.4,"y":31.8,"z":16.6},{"c":"R1","l":-0.4,"y":28.3,"z":8.6},{"c":"R1","l":-0.4,"y":23.6,"z":3},{"c":"R1","l":-0.4,"y":12.5,"z":-1},{"c":"R1","l":-0.4,"y":0.9,"z":3},{"c":"R1","l":-0.4,"y":-7.3,"z":7},{"c":"R1","l":-0.4,"y":-9.6,"z":12.6},{"c":"R1","l":-0.4,"y":-15.5,"z":23.1},{"c":"R1","l":-0.4,"y":-18.1,"z":28.7},{"c":"R1","l":-0.4,"y":-16.6,"z":37.1},{"c":"R1","l":-0.4,"y":-10.2,"z":42.4},
{"c":"R2","l":-0.3,"y":0.9,"z":42.4},{"c":"R2","l":-0.3,"y":12.5,"z":42.8},{"c":"R2","l":-0.3,"y":23.6,"z":39.1},{"c":"R2","l":-0.3,"y":30.6,"z":27.1},{"c":"R2","l":-0.3,"y":26,"z":15.8},{"c":"R2","l":-0.3,"y":13.1,"z":7.8},{"c":"R2","l":-0.3,"y":0.9,"z":11},{"c":"R2","l":-0.3,"y":-4.4,"z":18.3},{"c":"R2","l":-0.3,"y":-10.2,"z":27.1},{"c":"R2","l":-0.3,"y":-7.3,"z":36.7},
{"c":"R3","l":-0.2,"y":0.9,"z":34.3},{"c":"R3","l":-0.2,"y":12,"z":37.1},{"c":"R3","l":-0.2,"y":17.8,"z":33.5},{"c":"R3","l":-0.2,"y":24.8,"z":27.1},{"c":"R3","l":-0.2,"y":17.8,"z":19},{"c":"R3","l":-0.2,"y":12.5,"z":17},{"c":"R3","l":-0.2,"y":0.9,"z":20.6},{"c":"R3","l":-0.2,"y":-2,"z":27.1}],
"R":[{"c":"base","l":-2.75,"y":-95,"z":-122},{"c":"base","l":-2.75,"y":-95,"z":122},{"c":"base","l":-2.75,"y":68,"z":122},{"c":"base","l":-2.75,"y":68,"z":-122},
{"c":"L","l":-2.45,"y":-95,"z":-77.9},{"c":"L","l":-2.45,"y":-95,"z":104.1},{"c":"L","l":-2.45,"y":-90.7,"z":112.1},{"c":"L","l":-2.45,"y":-80.2,"z":118.6},{"c":"L","l":-2.45,"y":-68.5,"z":120.6},{"c":"L","l":-2.45,"y":-49.8,"z":122},{"c":"L","l":-2.45,"y":63,"z":122},{"c":"L","l":-2.45,"y":68,"z":119},{"c":"L","l":-2.45,"y":68,"z":-105.9},{"c":"L","l":-2.45,"y":64,"z":-113.3},{"c":"L","l":-2.45,"y":58.7,"z":-119},{"c":"L","l":-2.45,"y":54.6,"z":-122},{"c":"L","l":-2.45,"y":-68.5,"z":-122},{"c":"L","l":-2.45,"y":-77.3,"z":-116.5},{"c":"L","l":-2.45,"y":-87.2,"z":-108.5},{"c":"L","l":-2.45,"y":-92.4,"z":-97.2},
{"c":"K","l":-2.2,"y":-95,"z":-63.5},{"c":"K","l":-2.2,"y":-95,"z":99.3},{"c":"K","l":-2.2,"y":-88.9,"z":108.1},{"c":"K","l":-2.2,"y":-77.3,"z":116.2},{"c":"K","l":-2.2,"y":-62.7,"z":118.6},{"c":"K","l":-2.2,"y":-48.1,"z":120.2},{"c":"K","l":-2.2,"y":-32.3,"z":122},{"c":"K","l":-2.2,"y":58,"z":122},{"c":"K","l":-2.2,"y":67.5,"z":117},{"c":"K","l":-2.2,"y":68,"z":117},{"c":"K","l":-2.2,"y":68,"z":-97.9},{"c":"K","l":-2.2,"y":61.7,"z":-110.9},{"c":"K","l":-2.2,"y":54.6,"z":-118.1},{"c":"K","l":-2.2,"y":45.9,"z":-121.3},{"c":"K","l":-2.2,"y":43,"z":-122},{"c":"K","l":-2.2,"y":-45.2,"z":-122},{"c":"K","l":-2.2,"y":-61.5,"z":-121},{"c":"K","l":-2.2,"y":-71.4,"z":-118.1},{"c":"K","l":-2.2,"y":-84.3,"z":-110.1},{"c":"K","l":-2.2,"y":-90.4,"z":-97.2},{"c":"K","l":-2.2,"y":-91.9,"z":-80.3},
{"c":"J","l":-2.05,"y":-95,"z":-41},{"c":"J","l":-2.05,"y":-95,"z":93.2},{"c":"J","l":-2.05,"y":-87.8,"z":103.3},{"c":"J","l":-2.05,"y":-80.2,"z":109.7},{"c":"J","l":-2.05,"y":-68.5,"z":112.9},{"c":"J","l":-2.05,"y":-51,"z":117},{"c":"J","l":-2.05,"y":-32.3,"z":120.2},{"c":"J","l":-2.05,"y":-20.1,"z":121.1},{"c":"J","l":-2.05,"y":-16,"z":122},{"c":"J","l":-2.05,"y":52,"z":122},{"c":"J","l":-2.05,"y":59.3,"z":121.4},{"c":"J","l":-2.05,"y":67.5,"z":114.5},{"c":"J","l":-2.05,"y":68,"z":114.5},{"c":"J","l":-2.05,"y":68,"z":-88.4},{"c":"J","l":-2.05,"y":65.2,"z":-101.2},{"c":"J","l":-2.05,"y":59.3,"z":-111.7},{"c":"J","l":-2.05,"y":51.7,"z":-117.3},{"c":"J","l":-2.05,"y":37.1,"z":-120.1},{"c":"J","l":-2.05,"y":30.1,"z":-121.3},{"c":"J","l":-2.05,"y":28,"z":-122},{"c":"J","l":-2.05,"y":-18.9,"z":-122},{"c":"J","l":-2.05,"y":-25.9,"z":-121},{"c":"J","l":-2.05,"y":-48.1,"z":-117.3},{"c":"J","l":-2.05,"y":-62.7,"z":-114.1},{"c":"J","l":-2.05,"y":-74.9,"z":-108.5},{"c":"J","l":-2.05,"y":-83.7,"z":-97.2},{"c":"J","l":-2.05,"y":-88.4,"z":-82},{"c":"J","l":-2.05,"y":-90.4,"z":-67.5},{"c":"J","l":-2.05,"y":-90.1,"z":-61.9},{"c":"J","l":-2.05,"y":-92.4,"z":-50.6},
{"c":"I","l":-1.85,"y":-95,"z":-15.2},{"c":"I","l":-1.85,"y":-95,"z":87.2},{"c":"I","l":-1.85,"y":-90.4,"z":96.9},{"c":"I","l":-1.85,"y":-85.4,"z":101.3},{"c":"I","l":-1.85,"y":-77.3,"z":106.1},{"c":"I","l":-1.85,"y":-65.6,"z":111.3},{"c":"I","l":-1.85,"y":-51,"z":112.9},{"c":"I","l":-1.85,"y":-33.5,"z":117},{"c":"I","l":-1.85,"y":-20.1,"z":119.4},{"c":"I","l":-1.85,"y":-10.1,"z":120.6},{"c":"I","l":-1.85,"y":0.4,"z":121.8},{"c":"I","l":-1.85,"y":54.6,"z":121.8},{"c":"I","l":-1.85,"y":61.7,"z":117.8},{"c":"I","l":-1.85,"y":67.5,"z":112.9},{"c":"I","l":-1.85,"y":68,"z":112.9},{"c":"I","l":-1.85,"y":68,"z":-76.3},{"c":"I","l":-1.85,"y":62.2,"z":-94},{"c":"I","l":-1.85,"y":57.6,"z":-105.3},{"c":"I","l":-1.85,"y":48.8,"z":-113.3},{"c":"I","l":-1.85,"y":34.2,"z":-117.3},{"c":"I","l":-1.85,"y":22,"z":-118.5},{"c":"I","l":-1.85,"y":-15.4,"z":-118.1},{"c":"I","l":-1.85,"y":-27.6,"z":-117.3},{"c":"I","l":-1.85,"y":-48.1,"z":-113.3},{"c":"I","l":-1.85,"y":-62.7,"z":-109.3},{"c":"I","l":-1.85,"y":-74.3,"z":-101.3},{"c":"I","l":-1.85,"y":-82.5,"z":-88.4},{"c":"I","l":-1.85,"y":-86,"z":-75.5},{"c":"I","l":-1.85,"y":-86,"z":-61},{"c":"I","l":-1.85,"y":-88.9,"z":-52.2},{"c":"I","l":-1.85,"y":-89.8,"z":-39.3},{"c":"I","l":-1.85,"y":-92.4,"z":-30.5},{"c":"I","l":-1.85,"y":-93.3,"z":-15.2},
{"c":"H","l":-1.65,"y":-95,"z":26.9},{"c":"H","l":-1.65,"y":-95,"z":80.4},{"c":"H","l":-1.65,"y":-90.1,"z":88},{"c":"H","l":-1.65,"y":-82.5,"z":96.1},{"c":"H","l":-1.65,"y":-76.7,"z":100.9},{"c":"H","l":-1.65,"y":-65,"z":106.9},{"c":"H","l":-1.65,"y":-51,"z":109.7},{"c":"H","l":-1.65,"y":-33.5,"z":112.9},{"c":"H","l":-1.65,"y":-10.1,"z":118.6},{"c":"H","l":-1.65,"y":2.1,"z":121},{"c":"H","l":-1.65,"y":50.6,"z":121.4},{"c":"H","l":-1.65,"y":51.1,"z":120.2},{"c":"H","l":-1.65,"y":58.2,"z":116.2},{"c":"H","l":-1.65,"y":63.4,"z":110.5},{"c":"H","l":-1.65,"y":68,"z":109.7},{"c":"H","l":-1.65,"y":68,"z":-67.5},{"c":"H","l":-1.65,"y":62.8,"z":-81.2},{"c":"H","l":-1.65,"y":58.7,"z":-98.8},{"c":"H","l":-1.65,"y":48.8,"z":-109.3},{"c":"H","l":-1.65,"y":37.1,"z":-113.3},{"c":"H","l":-1.65,"y":22,"z":-115.3},{"c":"H","l":-1.65,"y":-9.6,"z":-115.3},{"c":"H","l":-1.65,"y":-15.4,"z":-114.5},{"c":"H","l":-1.65,"y":-27.6,"z":-113.3},{"c":"H","l":-1.65,"y":-48.1,"z":-108.5},{"c":"H","l":-1.65,"y":-63.8,"z":-100.4},{"c":"H","l":-1.65,"y":-73.2,"z":-91.6},{"c":"H","l":-1.65,"y":-78.4,"z":-82},{"c":"H","l":-1.65,"y":-81,"z":-71.5},{"c":"H","l":-1.65,"y":-81,"z":-60.2},{"c":"H","l":-1.65,"y":-85.4,"z":-49.8},{"c":"H","l":-1.65,"y":-86,"z":-40.2},{"c":"H","l":-1.65,"y":-88.9,"z":-30.5},{"c":"H","l":-1.65,"y":-88.9,"z":-18.5},{"c":"H","l":-1.65,"y":-91,"z":-8},{"c":"H","l":-1.65,"y":-90.4,"z":2.5},{"c":"H","l":-1.65,"y":-91,"z":4.4},{"c":"H","l":-1.65,"y":-91.3,"z":21.3},
{"c":"G","l":-1.5,"y":-95,"z":35.8},{"c":"G","l":-1.5,"y":-95,"z":73.6},{"c":"G","l":-1.5,"y":-88.9,"z":81.6},{"c":"G","l":-1.5,"y":-83.7,"z":89.6},{"c":"G","l":-1.5,"y":-76.1,"z":94.5},{"c":"G","l":-1.5,"y":-66.2,"z":102.5},{"c":"G","l":-1.5,"y":-49.8,"z":105.7},{"c":"G","l":-1.5,"y":-33.5,"z":108.9},{"c":"G","l":-1.5,"y":-21.8,"z":113.3},{"c":"G","l":-1.5,"y":-10.1,"z":116.2},{"c":"G","l":-1.5,"y":-0.8,"z":118.2},{"c":"G","l":-1.5,"y":15.5,"z":120.2},{"c":"G","l":-1.5,"y":46.5,"z":120.2},{"c":"G","l":-1.5,"y":54.6,"z":117},{"c":"G","l":-1.5,"y":62.8,"z":108.1},{"c":"G","l":-1.5,"y":68,"z":105.7},{"c":"G","l":-1.5,"y":68,"z":-60.2},{"c":"G","l":-1.5,"y":62.2,"z":-80.3},{"c":"G","l":-1.5,"y":58.7,"z":-90},{"c":"G","l":-1.5,"y":48.8,"z":-101.3},{"c":"G","l":-1.5,"y":43,"z":-104.5},{"c":"G","l":-1.5,"y":28.4,"z":-110.1},{"c":"G","l":-1.5,"y":18.5,"z":-111.7},{"c":"G","l":-1.5,"y":-4.3,"z":-111.7},{"c":"G","l":-1.5,"y":-15.4,"z":-110.1},{"c":"G","l":-1.5,"y":-23,"z":-108.5},{"c":"G","l":-1.5,"y":-39.3,"z":-104.5},{"c":"G","l":-1.5,"y":-52.2,"z":-98.8},{"c":"G","l":-1.5,"y":-63.3,"z":-91.6},{"c":"G","l":-1.5,"y":-68.5,"z":-84.4},{"c":"G","l":-1.5,"y":-73.2,"z":-73.1},{"c":"G","l":-1.5,"y":-73.8,"z":-60.2},{"c":"G","l":-1.5,"y":-79,"z":-49.8},{"c":"G","l":-1.5,"y":-80.8,"z":-38.5},{"c":"G","l":-1.5,"y":-85.1,"z":-28.9},{"c":"G","l":-1.5,"y":-85.1,"z":-18.5},{"c":"G","l":-1.5,"y":-87.5,"z":-8},{"c":"G","l":-1.5,"y":-86.6,"z":2.5},{"c":"G","l":-1.5,"y":-87.5,"z":4.4},{"c":"G","l":-1.5,"y":-87.8,"z":22.1},
{"c":"F","l":-1.3,"y":-95,"z":46.2},{"c":"F","l":-1.3,"y":-95,"z":64.7},{"c":"F","l":-1.3,"y":-90.7,"z":71.1},{"c":"F","l":-1.3,"y":-85.1,"z":81.2},{"c":"F","l":-1.3,"y":-75.5,"z":88},{"c":"F","l":-1.3,"y":-66.8,"z":94},{"c":"F","l":-1.3,"y":-56.8,"z":99.7},{"c":"F","l":-1.3,"y":-42.8,"z":102.1},{"c":"F","l":-1.3,"y":-27.6,"z":109.7},{"c":"F","l":-1.3,"y":-15.4,"z":112.9},{"c":"F","l":-1.3,"y":-0.8,"z":115.4},{"c":"F","l":-1.3,"y":13.8,"z":117},{"c":"F","l":-1.3,"y":31.3,"z":117.4},{"c":"F","l":-1.3,"y":47.6,"z":117},{"c":"F","l":-1.3,"y":55.8,"z":112.1},{"c":"F","l":-1.3,"y":62.8,"z":105.7},{"c":"F","l":-1.3,"y":66.9,"z":101.7},{"c":"F","l":-1.3,"y":68,"z":101.7},{"c":"F","l":-1.3,"y":68,"z":-53},{"c":"F","l":-1.3,"y":62.8,"z":-59.5},{"c":"F","l":-1.3,"y":61.7,"z":-65.9},{"c":"F","l":-1.3,"y":59.9,"z":-73.9},{"c":"F","l":-1.3,"y":58.7,"z":-80.3},{"c":"F","l":-1.3,"y":50.6,"z":-90},{"c":"F","l":-1.3,"y":44.1,"z":-97.2},{"c":"F","l":-1.3,"y":37.1,"z":-101.3},{"c":"F","l":-1.3,"y":28.4,"z":-103.7},{"c":"F","l":-1.3,"y":19,"z":-104.9},{"c":"F","l":-1.3,"y":-4.9,"z":-105.3},{"c":"F","l":-1.3,"y":-15.4,"z":-104.1},{"c":"F","l":-1.3,"y":-30.6,"z":-100},{"c":"F","l":-1.3,"y":-42.2,"z":-94.8},{"c":"F","l":-1.3,"y":-52.2,"z":-88.4},{"c":"F","l":-1.3,"y":-59.8,"z":-78.7},{"c":"F","l":-1.3,"y":-63.3,"z":-70.7},{"c":"F","l":-1.3,"y":-63.8,"z":-60.2},{"c":"F","l":-1.3,"y":-71.4,"z":-49.8},{"c":"F","l":-1.3,"y":-72.6,"z":-41},{"c":"F","l":-1.3,"y":-79,"z":-28.9},{"c":"F","l":-1.3,"y":-79,"z":-19.3},{"c":"F","l":-1.3,"y":-82.5,"z":-10.4},{"c":"F","l":-1.3,"y":-81.9,"z":2.5},{"c":"F","l":-1.3,"y":-83.7,"z":10.9},{"c":"F","l":-1.3,"y":-82.5,"z":20.5},{"c":"F","l":-1.3,"y":-93.6,"z":44.6},
{"c":"E","l":-1.15,"y":-89.5,"z":49.8},{"c":"E","l":-1.15,"y":-89.5,"z":59.1},{"c":"E","l":-1.15,"y":-86.6,"z":68.7},{"c":"E","l":-1.15,"y":-85.4,"z":72.3},{"c":"E","l":-1.15,"y":-75.5,"z":83.2},{"c":"E","l":-1.15,"y":-61.5,"z":90},{"c":"E","l":-1.15,"y":-49.8,"z":97.3},{"c":"E","l":-1.15,"y":-46.3,"z":99.3},{"c":"E","l":-1.15,"y":-38.1,"z":102.5},{"c":"E","l":-1.15,"y":-24.7,"z":106.5},{"c":"E","l":-1.15,"y":-15.4,"z":109.3},{"c":"E","l":-1.15,"y":0.4,"z":112.9},{"c":"E","l":-1.15,"y":13.8,"z":115.4},{"c":"E","l":-1.15,"y":25.5,"z":114.5},{"c":"E","l":-1.15,"y":40,"z":114.5},{"c":"E","l":-1.15,"y":48.2,"z":112.9},{"c":"E","l":-1.15,"y":55.2,"z":108.9},{"c":"E","l":-1.15,"y":62.2,"z":102.5},{"c":"E","l":-1.15,"y":66.3,"z":92},{"c":"E","l":-1.15,"y":68,"z":90.5},{"c":"E","l":-1.15,"y":68,"z":-41},{"c":"E","l":-1.15,"y":62.8,"z":-47.4},{"c":"E","l":-1.15,"y":60.5,"z":-52.2},{"c":"E","l":-1.15,"y":58.7,"z":-61},{"c":"E","l":-1.15,"y":57,"z":-67.5},{"c":"E","l":-1.15,"y":54.1,"z":-74.7},{"c":"E","l":-1.15,"y":51.1,"z":-79.5},{"c":"E","l":-1.15,"y":48.2,"z":-84.4},{"c":"E","l":-1.15,"y":43,"z":-88.4},{"c":"E","l":-1.15,"y":34.2,"z":-93.2},{"c":"E","l":-1.15,"y":19.6,"z":-97.2},{"c":"E","l":-1.15,"y":5,"z":-98},{"c":"E","l":-1.15,"y":-7.8,"z":-96.8},{"c":"E","l":-1.15,"y":-15.4,"z":-94.4},{"c":"E","l":-1.15,"y":-22.4,"z":-93.2},{"c":"E","l":-1.15,"y":-30.6,"z":-88.4},{"c":"E","l":-1.15,"y":-42.2,"z":-81.6},{"c":"E","l":-1.15,"y":-49,"z":-69.9},{"c":"E","l":-1.15,"y":-49.8,"z":-60.2},{"c":"E","l":-1.15,"y":-60.3,"z":-49.8},{"c":"E","l":-1.15,"y":-62.7,"z":-40.2},{"c":"E","l":-1.15,"y":-70.3,"z":-30.5},{"c":"E","l":-1.15,"y":-71.4,"z":-19.3},{"c":"E","l":-1.15,"y":-76.1,"z":-10.4},{"c":"E","l":-1.15,"y":-75.5,"z":-6.4},{"c":"E","l":-1.15,"y":-74.6,"z":2.5},{"c":"E","l":-1.15,"y":-77,"z":10.9},{"c":"E","l":-1.15,"y":-75.5,"z":17.3},{"c":"E","l":-1.15,"y":-76.1,"z":21.7},{"c":"E","l":-1.15,"y":-83.7,"z":31.8},{"c":"E","l":-1.15,"y":-85.4,"z":37.4},{"c":"E","l":-1.15,"y":-88.9,"z":48.6},
{"c":"D","l":-0.97,"y":-81,"z":49.8},{"c":"D","l":-0.97,"y":-81,"z":61.5},{"c":"D","l":-0.97,"y":-79,"z":68.7},{"c":"D","l":-0.97,"y":-77.6,"z":71.9},{"c":"D","l":-0.97,"y":-68.5,"z":81.2},{"c":"D","l":-0.97,"y":-58,"z":85.6},{"c":"D","l":-0.97,"y":-46.3,"z":91.2},{"c":"D","l":-0.97,"y":-39.3,"z":93.6},{"c":"D","l":-0.97,"y":-32.3,"z":99.3},{"c":"D","l":-0.97,"y":-21.8,"z":103.3},{"c":"D","l":-0.97,"y":-15.4,"z":104.5},{"c":"D","l":-0.97,"y":-0.8,"z":107.7},{"c":"D","l":-0.97,"y":13.8,"z":110.9},{"c":"D","l":-0.97,"y":21.4,"z":111.3},{"c":"D","l":-0.97,"y":26.6,"z":112.5},{"c":"D","l":-0.97,"y":34.8,"z":112.5},{"c":"D","l":-0.97,"y":47.6,"z":110.9},{"c":"D","l":-0.97,"y":55.8,"z":107.7},{"c":"D","l":-0.97,"y":61.1,"z":102.5},{"c":"D","l":-0.97,"y":63.4,"z":97.7},{"c":"D","l":-0.97,"y":67.5,"z":87.2},{"c":"D","l":-0.97,"y":68,"z":87.2},{"c":"D","l":-0.97,"y":68,"z":-35.3},{"c":"D","l":-0.97,"y":60.5,"z":-49},{"c":"D","l":-0.97,"y":57.6,"z":-56.2},{"c":"D","l":-0.97,"y":51.7,"z":-61},{"c":"D","l":-0.97,"y":50.6,"z":-63.5},{"c":"D","l":-0.97,"y":48.2,"z":-69.9},{"c":"D","l":-0.97,"y":38.3,"z":-81.2},{"c":"D","l":-0.97,"y":30.1,"z":-84.4},{"c":"D","l":-0.97,"y":19,"z":-87.2},{"c":"D","l":-0.97,"y":2.1,"z":-87.6},{"c":"D","l":-0.97,"y":-2,"z":-86.8},{"c":"D","l":-0.97,"y":-15.4,"z":-83.2},{"c":"D","l":-0.97,"y":-19.5,"z":-81.2},{"c":"D","l":-0.97,"y":-30,"z":-70.7},{"c":"D","l":-0.97,"y":-31.7,"z":-61.9},{"c":"D","l":-0.97,"y":-46.9,"z":-50.6},{"c":"D","l":-0.97,"y":-49.8,"z":-41},{"c":"D","l":-0.97,"y":-59.8,"z":-29.7},{"c":"D","l":-0.97,"y":-60.3,"z":-20.1},{"c":"D","l":-0.97,"y":-66.8,"z":-9.6},{"c":"D","l":-0.97,"y":-65.6,"z":2.5},{"c":"D","l":-0.97,"y":-67.6,"z":10.9},{"c":"D","l":-0.97,"y":-65.6,"z":18.1},{"c":"D","l":-0.97,"y":-66.2,"z":21.3},{"c":"D","l":-0.97,"y":-75.5,"z":31},{"c":"D","l":-0.97,"y":-80.2,"z":43},
{"c":"C","l":-0.8,"y":-69.7,"z":49.8},{"c":"C","l":-0.8,"y":-69.7,"z":59.9},{"c":"C","l":-0.8,"y":-67.9,"z":70.3},{"c":"C","l":-0.8,"y":-66.8,"z":71.5},{"c":"C","l":-0.8,"y":-56.8,"z":80},{"c":"C","l":-0.8,"y":-51,"z":83.2},{"c":"C","l":-0.8,"y":-39.3,"z":87.2},{"c":"C","l":-0.8,"y":-27.6,"z":92},{"c":"C","l":-0.8,"y":-20.6,"z":94.5},{"c":"C","l":-0.8,"y":-10.1,"z":100.1},{"c":"C","l":-0.8,"y":8,"z":105.3},{"c":"C","l":-0.8,"y":13.8,"z":106.1},{"c":"C","l":-0.8,"y":24.3,"z":108.1},{"c":"C","l":-0.8,"y":43,"z":108.1},{"c":"C","l":-0.8,"y":49.4,"z":106.1},{"c":"C","l":-0.8,"y":58.7,"z":102.5},{"c":"C","l":-0.8,"y":61.1,"z":95.3},{"c":"C","l":-0.8,"y":66.3,"z":86.4},{"c":"C","l":-0.8,"y":68,"z":84.8},{"c":"C","l":-0.8,"y":68,"z":-25.7},{"c":"C","l":-0.8,"y":60.5,"z":-38.5},{"c":"C","l":-0.8,"y":55.2,"z":-49.8},{"c":"C","l":-0.8,"y":49.4,"z":-55.8},{"c":"C","l":-0.8,"y":37.1,"z":-61.9},{"c":"C","l":-0.8,"y":28.4,"z":-69.1},{"c":"C","l":-0.8,"y":19.6,"z":-71.9},{"c":"C","l":-0.8,"y":12,"z":-72.7},{"c":"C","l":-0.8,"y":5.6,"z":-71.9},{"c":"C","l":-0.8,"y":-2,"z":-65.9},{"c":"C","l":-0.8,"y":-5.5,"z":-61},{"c":"C","l":-0.8,"y":-15.4,"z":-57.8},{"c":"C","l":-0.8,"y":-21.8,"z":-53.8},{"c":"C","l":-0.8,"y":-29.4,"z":-49},{"c":"C","l":-0.8,"y":-33.5,"z":-40.2},{"c":"C","l":-0.8,"y":-45.7,"z":-31.3},{"c":"C","l":-0.8,"y":-46.9,"z":-25.7},{"c":"C","l":-0.8,"y":-49.2,"z":-18.5},{"c":"C","l":-0.8,"y":-55.1,"z":-12},{"c":"C","l":-0.8,"y":-55.4,"z":-7.2},{"c":"C","l":-0.8,"y":-53.9,"z":2.5},{"c":"C","l":-0.8,"y":-56.8,"z":10},{"c":"C","l":-0.8,"y":-56.3,"z":12.5},{"c":"C","l":-0.8,"y":-53.3,"z":20.5},{"c":"C","l":-0.8,"y":-61.5,"z":28.1},{"c":"C","l":-0.8,"y":-65,"z":31},{"c":"C","l":-0.8,"y":-69.4,"z":41.4},
{"c":"B","l":-0.67,"y":-54.8,"z":49.8},{"c":"B","l":-0.67,"y":-54.8,"z":60.7},{"c":"B","l":-0.67,"y":-53.3,"z":70.3},{"c":"B","l":-0.67,"y":-51,"z":73.2},{"c":"B","l":-0.67,"y":-42.2,"z":79.6},{"c":"B","l":-0.67,"y":-33.5,"z":83.2},{"c":"B","l":-0.67,"y":-21.8,"z":86.4},{"c":"B","l":-0.67,"y":-10.1,"z":90},{"c":"B","l":-0.67,"y":-7.8,"z":92},{"c":"B","l":-0.67,"y":2.1,"z":96.1},{"c":"B","l":-0.67,"y":12.6,"z":101.3},{"c":"B","l":-0.67,"y":24.3,"z":103.7},{"c":"B","l":-0.67,"y":40.6,"z":103.7},{"c":"B","l":-0.67,"y":48.8,"z":102.1},{"c":"B","l":-0.67,"y":53.5,"z":98.5},{"c":"B","l":-0.67,"y":57.6,"z":92.8},{"c":"B","l":-0.67,"y":62.2,"z":85.6},{"c":"B","l":-0.67,"y":66.3,"z":79.2},{"c":"B","l":-0.67,"y":68,"z":73.6},{"c":"B","l":-0.67,"y":68,"z":-16.8},{"c":"B","l":-0.67,"y":62.8,"z":-24.1},{"c":"B","l":-0.67,"y":60.5,"z":-31.3},{"c":"B","l":-0.67,"y":50.6,"z":-42.6},{"c":"B","l":-0.67,"y":45.3,"z":-49.8},{"c":"B","l":-0.67,"y":37.1,"z":-53.4},{"c":"B","l":-0.67,"y":26.6,"z":-55.4},{"c":"B","l":-0.67,"y":15.5,"z":-55.4},{"c":"B","l":-0.67,"y":9.7,"z":-55},{"c":"B","l":-0.67,"y":-0.2,"z":-52.6},{"c":"B","l":-0.67,"y":-4.9,"z":-51},{"c":"B","l":-0.67,"y":-9.6,"z":-46.6},{"c":"B","l":-0.67,"y":-16,"z":-39.3},{"c":"B","l":-0.67,"y":-21.8,"z":-36.9},{"c":"B","l":-0.67,"y":-30,"z":-30.5},{"c":"B","l":-0.67,"y":-31.7,"z":-27.3},{"c":"B","l":-0.67,"y":-32.9,"z":-20.1},{"c":"B","l":-0.67,"y":-39.3,"z":-13.6},{"c":"B","l":-0.67,"y":-41.7,"z":-10.4},{"c":"B","l":-0.67,"y":-41.7,"z":-5.6},{"c":"B","l":-0.67,"y":-41.1,"z":2},{"c":"B","l":-0.67,"y":-44,"z":10.9},{"c":"B","l":-0.67,"y":-39.6,"z":18.9},{"c":"B","l":-0.67,"y":-40.2,"z":22.1},{"c":"B","l":-0.67,"y":-47.5,"z":26.9},{"c":"B","l":-0.67,"y":-51.6,"z":31},{"c":"B","l":-0.67,"y":-55.7,"z":39},{"c":"B","l":-0.67,"y":-56.3,"z":43},
{"c":"A","l":-0.5,"y":-35.2,"z":49.8},{"c":"A","l":-0.5,"y":-34.9,"z":60.7},{"c":"A","l":-0.5,"y":-35.5,"z":71.9},{"c":"A","l":-0.5,"y":-34.4,"z":72.3},{"c":"A","l":-0.5,"y":-27.6,"z":76.8},{"c":"A","l":-0.5,"y":-18.9,"z":81.6},{"c":"A","l":-0.5,"y":-10.1,"z":84.8},{"c":"A","l":-0.5,"y":-0.8,"z":88},{"c":"A","l":-0.5,"y":13.8,"z":91.2},{"c":"A","l":-0.5,"y":21.4,"z":92.8},{"c":"A","l":-0.5,"y":33,"z":96.5},{"c":"A","l":-0.5,"y":38.3,"z":96},{"c":"A","l":-0.5,"y":47.6,"z":92.8},{"c":"A","l":-0.5,"y":55.2,"z":88},{"c":"A","l":-0.5,"y":59.9,"z":84},{"c":"A","l":-0.5,"y":62.8,"z":73.6},{"c":"A","l":-0.5,"y":63.4,"z":51},{"c":"A","l":-0.5,"y":67.5,"z":44.6},{"c":"A","l":-0.5,"y":68,"z":44.6},{"c":"A","l":-0.5,"y":68,"z":-11.2},{"c":"A","l":-0.5,"y":65.7,"z":-11.2},{"c":"A","l":-0.5,"y":59.3,"z":-24.9},{"c":"A","l":-0.5,"y":57,"z":-30.5},{"c":"A","l":-0.5,"y":47.6,"z":-36.9},{"c":"A","l":-0.5,"y":37.1,"z":-41.4},{"c":"A","l":-0.5,"y":24.3,"z":-42.6},{"c":"A","l":-0.5,"y":13.8,"z":-41},{"c":"A","l":-0.5,"y":2.1,"z":-36.9},{"c":"A","l":-0.5,"y":-9.6,"z":-32.9},{"c":"A","l":-0.5,"y":-14.8,"z":-24.9},{"c":"A","l":-0.5,"y":-18.3,"z":-18.5},{"c":"A","l":-0.5,"y":-25.9,"z":-12.4},{"c":"A","l":-0.5,"y":-27.6,"z":-8.8},{"c":"A","l":-0.5,"y":-26.8,"z":-5.6},{"c":"A","l":-0.5,"y":-26.5,"z":2.8},{"c":"A","l":-0.5,"y":-28.8,"z":6.8},{"c":"A","l":-0.5,"y":-28.8,"z":12.5},{"c":"A","l":-0.5,"y":-24.4,"z":20.5},{"c":"A","l":-0.5,"y":-25.9,"z":22.1},{"c":"A","l":-0.5,"y":-35.8,"z":30.1},{"c":"A","l":-0.5,"y":-37.6,"z":34.2},{"c":"A","l":-0.5,"y":-39.6,"z":39},{"c":"A","l":-0.5,"y":-39.3,"z":43},
{"c":"R1","l":-0.4,"y":-14.2,"z":71.9},{"c":"R1","l":-0.4,"y":-10.7,"z":74.4},{"c":"R1","l":-0.4,"y":8,"z":82.8},{"c":"R1","l":-0.4,"y":22.5,"z":86},{"c":"R1","l":-0.4,"y":41.8,"z":86.4},{"c":"R1","l":-0.4,"y":49.4,"z":84.4},{"c":"R1","l":-0.4,"y":55.2,"z":79.2},{"c":"R1","l":-0.4,"y":58.7,"z":71.5},{"c":"R1","l":-0.4,"y":53.5,"z":62.3},{"c":"R1","l":-0.4,"y":53.2,"z":50.2},{"c":"R1","l":-0.4,"y":60.5,"z":41.4},{"c":"R1","l":-0.4,"y":66.3,"z":35},{"c":"R1","l":-0.4,"y":68,"z":28.5},{"c":"R1","l":-0.4,"y":66.3,"z":6},{"c":"R1","l":-0.4,"y":62.8,"z":-7.2},{"c":"R1","l":-0.4,"y":60.5,"z":-12.8},{"c":"R1","l":-0.4,"y":51.7,"z":-22.5},{"c":"R1","l":-0.4,"y":48.2,"z":-29.7},{"c":"R1","l":-0.4,"y":39.5,"z":-32.9},{"c":"R1","l":-0.4,"y":25.5,"z":-33.3},{"c":"R1","l":-0.4,"y":13.8,"z":-32.1},{"c":"R1","l":-0.4,"y":8,"z":-28.9},{"c":"R1","l":-0.4,"y":2.7,"z":-20.9},{"c":"R1","l":-0.4,"y":-7.8,"z":-13.6},{"c":"R1","l":-0.4,"y":-11.9,"z":-5.6},{"c":"R1","l":-0.4,"y":-12.5,"z":2.5},{"c":"R1","l":-0.4,"y":-14.8,"z":8.4},{"c":"R1","l":-0.4,"y":-10.1,"z":20.5},{"c":"R1","l":-0.4,"y":-20,"z":31},{"c":"R1","l":-0.4,"y":-21.2,"z":39},{"c":"R1","l":-0.4,"y":-10.1,"z":48.6},{"c":"R1","l":-0.4,"y":-9.6,"z":51},{"c":"R1","l":-0.4,"y":-9.9,"z":60.7},{"c":"R1","l":-0.4,"y":-12.5,"z":68.7},
{"c":"T","l":-0.3,"y":15.5,"z":71.1},{"c":"T","l":-0.3,"y":25.5,"z":76.8},{"c":"T","l":-0.3,"y":37.1,"z":77.6},{"c":"T","l":-0.3,"y":45.3,"z":71.9},{"c":"T","l":-0.3,"y":37.1,"z":66.3},{"c":"T","l":-0.3,"y":25.5,"z":66.3},
{"c":"R2","l":-0.3,"y":-2.3,"z":33.4},{"c":"R2","l":-0.3,"y":2.7,"z":42.2},{"c":"R2","l":-0.3,"y":25.5,"z":49},{"c":"R2","l":-0.3,"y":37.1,"z":49},{"c":"R2","l":-0.3,"y":48.8,"z":46.6},{"c":"R2","l":-0.3,"y":59.3,"z":40.6},{"c":"R2","l":-0.3,"y":62.8,"z":33.4},{"c":"R2","l":-0.3,"y":62.8,"z":20.5},{"c":"R2","l":-0.3,"y":61.7,"z":4.4},{"c":"R2","l":-0.3,"y":59.3,"z":-8},{"c":"R2","l":-0.3,"y":50,"z":-16.8},{"c":"R2","l":-0.3,"y":37.1,"z":-20.5},{"c":"R2","l":-0.3,"y":25.5,"z":-20.5},{"c":"R2","l":-0.3,"y":13.8,"z":-16.8},{"c":"R2","l":-0.3,"y":6.8,"z":-12},{"c":"R2","l":-0.3,"y":4.4,"z":-5.6},{"c":"R2","l":-0.3,"y":2.7,"z":2.5},{"c":"R2","l":-0.3,"y":-0.2,"z":9.2},{"c":"R2","l":-0.3,"y":3.3,"z":17.3},{"c":"R2","l":-0.3,"y":5.3,"z":21.3},{"c":"R2","l":-0.3,"y":2.1,"z":25.3},
{"c":"R3","l":-0.2,"y":20.2,"z":27.7},{"c":"R3","l":-0.2,"y":21.4,"z":32.6},{"c":"R3","l":-0.2,"y":25.5,"z":41},{"c":"R3","l":-0.2,"y":37.1,"z":42.2},{"c":"R3","l":-0.2,"y":48.8,"z":41},{"c":"R3","l":-0.2,"y":54.6,"z":37.4},{"c":"R3","l":-0.2,"y":59.3,"z":30.1},{"c":"R3","l":-0.2,"y":57.6,"z":20.5},{"c":"R3","l":-0.2,"y":56.4,"z":4.4},{"c":"R3","l":-0.2,"y":50.6,"z":-1.6},{"c":"R3","l":-0.2,"y":43,"z":-9.6},{"c":"R3","l":-0.2,"y":36,"z":-11.2},{"c":"R3","l":-0.2,"y":25.5,"z":-8},{"c":"R3","l":-0.2,"y":22.5,"z":0.1},{"c":"R3","l":-0.2,"y":14.4,"z":9.2},{"c":"R3","l":-0.2,"y":19.6,"z":15.7},{"c":"R3","l":-0.2,"y":22,"z":20.5}]},
"hconcat":[
{"width":931,"height":1393,"title":{"text":"OpenMC Flux Contour in YZ Plane at X = 0 cm","offset":14,"dx":1},"data":{"name":"L"},"mark":{"type":"line","interpolate":"linear-closed","strokeWidth":3},"encoding":{"x":{"field":"y","type":"quantitative","title":"Y (cm)","scale":{"domain":[-95,68],"nice":false},"axis":{"values":[-50,0,50],"labelFontSize":49,"titleFontSize":58,"labelPadding":41,"titlePadding":26,"grid":true,"gridColor":"#000","gridOpacity":0.12,"zindex":1,"labelExpr":"replace(datum.label,'−','-')"}},"y":{"field":"z","type":"quantitative","title":"Z (cm)","scale":{"domain":[-122,122],"nice":false},"axis":{"values":[-100,-50,0,50,100],"labelFontSize":49,"titleFontSize":58,"labelPadding":38,"titlePadding":27,"grid":true,"gridColor":"#000","gridOpacity":0.12,"zindex":1,"labelExpr":"replace(datum.label,'−','-')"}},"fill":{"field":"l","type":"quantitative","legend":null,"scale":{"domain":[-3,-2.75,-2.45,-2.2,-2.05,-1.85,-1.65,-1.5,-1.3,-1.15,-0.97,-0.8,-0.67,-0.5,-0.4,-0.3,-0.2,-0.14],"range":["#1e2270","#2c3e94","#3c7cc0","#30b4e8","#58c6de","#74c7a8","#8ecb73","#b5d63c","#e0e619","#f8e40f","#fbae17","#f37c20","#f15a24","#ec2024","#de1f26","#b21b21","#7a1013","#5a0f12"]}},"detail":{"field":"c"},"stroke":{"condition":{"test":"datum.l>-0.45","value":"#8a1518"},"value":"#111111"},"order":{"value":null}}},
{"width":93,"height":1393,"data":{"name":"cb"},"layer":[{"mark":{"type":"rect","clip":true},"encoding":{"y":{"field":"v","type":"quantitative","title":"Logarithmic Flux Value","scale":{"domain":[-3,-0.14],"nice":false},"axis":{"orient":"right","values":[-3,-2.5,-2,-1.5,-1,-0.5],"format":"~g","labelFontSize":49,"titleFontSize":49,"labelPadding":25,"titlePadding":83,"titleAngle":270,"grid":false,"zindex":1,"labelExpr":"replace(datum.label,'−','-')"}},"y2":{"field":"w"},"fill":{"field":"v","type":"quantitative","legend":null,"scale":{"domain":[-3,-2.75,-2.45,-2.2,-2.05,-1.85,-1.65,-1.5,-1.3,-1.15,-0.97,-0.8,-0.67,-0.5,-0.4,-0.3,-0.2,-0.14],"range":["#1e2270","#2c3e94","#3c7cc0","#30b4e8","#58c6de","#74c7a8","#8ecb73","#b5d63c","#e0e619","#f8e40f","#fbae17","#f37c20","#f15a24","#ec2024","#de1f26","#b21b21","#7a1013","#5a0f12"]}}}},{"mark":{"type":"rect","fillOpacity":0,"stroke":"#222222","strokeWidth":2.5},"encoding":{"y":{"datum":-3},"y2":{"datum":-0.14}}}]},
{"width":407,"height":10,"data":{"values":[{"a":1}]},"mark":{"type":"rule","opacity":0},"encoding":{}},
{"width":931,"height":1402,"title":{"text":"MCNP Flux Contour in YZ Plane at X = 0","offset":9,"dx":7},"data":{"name":"R"},"mark":{"type":"line","interpolate":"linear-closed","strokeWidth":3},"encoding":{"x":{"field":"y","type":"quantitative","title":"Y (cm)","scale":{"domain":[-95,68],"nice":false},"axis":{"values":[-50,0,50],"labelFontSize":49,"titleFontSize":58,"labelPadding":41,"titlePadding":26,"grid":true,"gridColor":"#000","gridOpacity":0.12,"zindex":1,"labelExpr":"replace(datum.label,'−','-')"}},"y":{"field":"z","type":"quantitative","title":"Z (cm)","scale":{"domain":[-122,122],"nice":false,"range":[1402,8.5]},"axis":{"values":[-100,-50,0,50,100],"labelFontSize":49,"titleFontSize":58,"labelPadding":38,"titlePadding":27,"grid":true,"gridColor":"#000","gridOpacity":0.12,"zindex":1,"labelExpr":"replace(datum.label,'−','-')"}},"fill":{"field":"l","type":"quantitative","legend":null,"scale":{"domain":[-3,-2.75,-2.45,-2.2,-2.05,-1.85,-1.65,-1.5,-1.3,-1.15,-0.97,-0.8,-0.67,-0.5,-0.4,-0.3,-0.2,-0.14],"range":["#1e2270","#2c3e94","#3c7cc0","#30b4e8","#58c6de","#74c7a8","#8ecb73","#b5d63c","#e0e619","#f8e40f","#fbae17","#f37c20","#f15a24","#ec2024","#de1f26","#b21b21","#7a1013","#5a0f12"]}},"detail":{"field":"c"},"stroke":{"condition":{"test":"datum.l>-0.45","value":"#8a1518"},"value":"#111111"},"order":{"value":null}}},
{"width":93,"height":1402,"data":{"name":"cb"},"layer":[{"mark":{"type":"rect","clip":true},"encoding":{"y":{"field":"v","type":"quantitative","title":"Logarithmic Flux Value","scale":{"domain":[-2.98,-0.14],"nice":false,"range":[1402,8.5]},"axis":{"orient":"right","values":[-2.5,-2,-1.5,-1,-0.5],"format":"~g","labelFontSize":49,"titleFontSize":49,"labelPadding":25,"titlePadding":83,"titleAngle":270,"grid":false,"zindex":1,"labelExpr":"replace(datum.label,'−','-')"}},"y2":{"field":"w"},"fill":{"field":"v","type":"quantitative","legend":null,"scale":{"domain":[-3,-2.75,-2.45,-2.2,-2.05,-1.85,-1.65,-1.5,-1.3,-1.15,-0.97,-0.8,-0.67,-0.5,-0.4,-0.3,-0.2,-0.14],"range":["#1e2270","#2c3e94","#3c7cc0","#30b4e8","#58c6de","#74c7a8","#8ecb73","#b5d63c","#e0e619","#f8e40f","#fbae17","#f37c20","#f15a24","#ec2024","#de1f26","#b21b21","#7a1013","#5a0f12"]}}}},{"mark":{"type":"rect","fillOpacity":0,"stroke":"#222222","strokeWidth":2.5},"encoding":{"y":{"datum":-2.98},"y2":{"datum":-0.14}}}]}
]}
